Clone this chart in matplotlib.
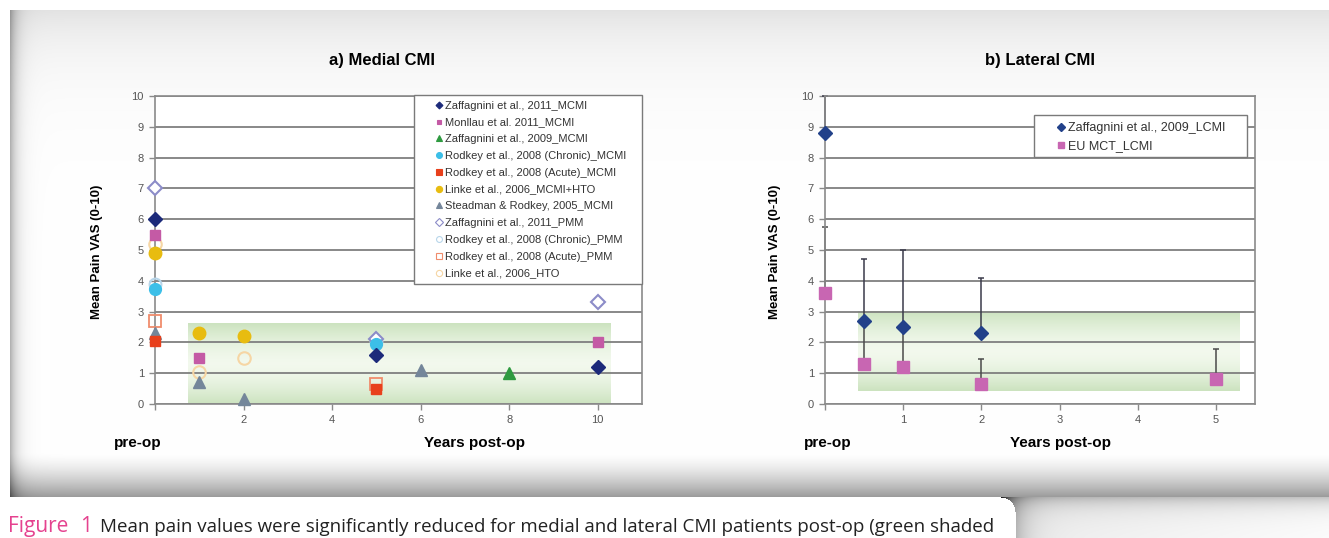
import numpy as np
import matplotlib.pyplot as plt
from matplotlib.lines import Line2D
from matplotlib.patches import Rectangle

plt.rcParams['font.family'] = ['Liberation Sans', 'DejaVu Sans']

W, H = 1329, 538

# ---- a) medial CMI  (x = years post-op, 0 = pre-op) ----
zaf11_x = [0, 5, 10]
zaf11_y = [6.0, 1.6, 1.2]
monllau_x = [0, 1, 10]
monllau_y = [5.5, 1.5, 2.0]
zaf09_x = [8]
zaf09_y = [1.0]
rod_chr_x = [0, 5]
rod_chr_y = [3.75, 1.95]
rod_acu_x = [0, 5]
rod_acu_y = [2.05, 0.5]
linke_x = [0, 1, 2]
linke_y = [4.9, 2.3, 2.2]
steadman_x = [0, 1, 2, 6]
steadman_y = [2.3, 0.7, 0.15, 1.1]
zaf11_pmm_x = [0, 5, 10]
zaf11_pmm_y = [7.0, 2.1, 3.3]
rod_chr_pmm_x = [0, 5]
rod_chr_pmm_y = [3.9, 2.05]
rod_acu_pmm_x = [0, 5]
rod_acu_pmm_y = [2.7, 0.65]
linke_hto_x = [0, 1, 2]
linke_hto_y = [5.2, 1.05, 1.5]

medial_labels = ["Zaffagnini et al., 2011_MCMI", "Monllau et al. 2011_MCMI",
                 "Zaffagnini et al., 2009_MCMI", "Rodkey et al., 2008 (Chronic)_MCMI",
                 "Rodkey et al., 2008 (Acute)_MCMI", "Linke et al., 2006_MCMI+HTO",
                 "Steadman & Rodkey, 2005_MCMI", "Zaffagnini et al., 2011_PMM",
                 "Rodkey et al., 2008 (Chronic)_PMM", "Rodkey et al., 2008 (Acute)_PMM",
                 "Linke et al., 2006_HTO"]
medial_ticks = [2, 4, 6, 8, 10]

# ---- b) lateral CMI ----
zaf_lat_x = [0, 0.5, 1, 2]
zaf_lat_y = [8.8, 2.7, 2.5, 2.3]
zaf_lat_err = [1.2, 2.0, 2.5, 1.8]
eu_x = [0, 0.5, 1, 2, 5]
eu_y = [3.6, 1.3, 1.2, 0.65, 0.8]
eu_err = [2.15, 1.4, 1.3, 0.8, 1.0]
lateral_labels = ["Zaffagnini et al., 2009_LCMI", "EU MCT_LCMI"]
lateral_ticks = [1, 2, 3, 4, 5]

caption = "Mean pain values were significantly reduced for medial and lateral CMI patients post-op (green shaded"

fig = plt.figure(figsize=(W / 100, H / 100), dpi=100)

# page background (card with shadow, caption card)
yy, xx = np.mgrid[0:H, 0:W].astype(float)
bg = np.ones((H, W))
card = (yy >= 10) & (yy < 497) & (xx >= 10)
v = 1.0 - 0.11 * np.exp(-(yy - 10) / 45)
v -= 0.40 * np.clip((yy - 452) / 45, 0, 1) ** 1.5
v -= 0.30 * np.exp(-(xx - 10) / 7)
bg[card] = v[card]
below = yy >= 497
right = below & (xx > 1015)
rv = 0.93 + 0.06 * (xx - 1015) / 314 - 0.22 * np.exp(-(xx - 1015) / 14)
rv -= 0.22 * np.exp(-(yy - 497) / 10)
bg[right] = rv[right]
corner = below & (xx > 1000) & (xx <= 1015) & (yy < 512) & ((xx - 1000) ** 2 + (yy - 512) ** 2 > 225)
bg[corner] = rv[corner]
bg[below & (xx < 15)] = 1.0
bg = np.clip(bg, 0, 1)

ax_bg = fig.add_axes([0, 0, 1, 1], zorder=-10)
ax_bg.imshow(np.dstack([bg] * 3), extent=(0, W, H, 0), aspect='auto', interpolation='bilinear')
ax_bg.set_xlim(0, W)
ax_bg.set_ylim(H, 0)
ax_bg.axis('off')


def px_axes(x0, x1, yt, yb):
    return fig.add_axes([x0 / W, (H - yb) / H, (x1 - x0) / W, (yb - yt) / H])


def green_band(ax, x0, x1, y0, y1):
    t = np.linspace(0, 1, 120)[:, None]
    k = (np.abs(t - 0.5) * 2) ** 1.6
    edge = np.array([0.80, 0.89, 0.75])
    mid = np.array([0.95, 0.975, 0.93])
    img = mid + (edge - mid) * k[..., None]
    ax.imshow(img, extent=(x0, x1, y0, y1), aspect='auto', zorder=0.2, interpolation='bilinear')


def style_axes(ax, xmax, xticks):
    ax.set_xlim(0, xmax)
    ax.set_ylim(0, 10)
    ax.set_yticks(range(0, 11))
    ax.set_xticks([0] + xticks)
    ax.set_xticklabels([''] + [str(t) for t in xticks])
    ax.set_axisbelow(True)
    ax.grid(axis='y', color='#7f7f7f', lw=1.3)
    for s in ax.spines.values():
        s.set_color('#8a8a8a')
        s.set_linewidth(1.2)
    ax.tick_params(direction='out', length=4, width=1, color='#8a8a8a',
                   labelcolor='#555555', labelsize=8, pad=4)


def legend_box(ax, x0, y0, x1, y1):
    ax.add_patch(Rectangle((x0, y0), x1 - x0, y1 - y0, transform=ax.transAxes, facecolor='white',
                           edgecolor='#7a7a7a', lw=1.0, zorder=4, clip_on=False))


# ---------- left chart ----------
axL = px_axes(155, 642, 96, 404)
green_band(axL, 0.75, 10.3, 0, 2.6)
style_axes(axL, 11, medial_ticks)

medial_series = [
    (zaf11_x, zaf11_y, dict(marker='D', ms=7, mfc='#1c2a7a', mec='#1c2a7a')),
    (monllau_x, monllau_y, dict(marker='s', ms=7, mfc='#c45aa5', mec='#c45aa5')),
    (zaf09_x, zaf09_y, dict(marker='^', ms=8, mfc='#2e9a40', mec='#2e9a40')),
    (rod_chr_x, rod_chr_y, dict(marker='o', ms=8.5, mfc='#3cbfe8', mec='#3cbfe8')),
    (rod_acu_x, rod_acu_y, dict(marker='s', ms=7.5, mfc='#e8401c', mec='#e8401c')),
    (linke_x, linke_y, dict(marker='o', ms=9, mfc='#e8bc10', mec='#e8bc10')),
    (steadman_x, steadman_y, dict(marker='^', ms=8.5, mfc='#74869a', mec='#74869a')),
    (zaf11_pmm_x, zaf11_pmm_y, dict(marker='D', ms=7.5, mfc='white', mec='#8c8cc8', mew=1.5)),
    (rod_chr_pmm_x, rod_chr_pmm_y, dict(marker='o', ms=8.5, mfc='none', mec='#b8d6ea', mew=1.5)),
    (rod_acu_pmm_x, rod_acu_pmm_y, dict(marker='s', ms=8, mfc='none', mec='#f08c6c', mew=1.3)),
    (linke_hto_x, linke_hto_y, dict(marker='o', ms=9, mfc='none', mec='#f6d6a4', mew=1.5)),
]
draw_order = [10, 9, 8, 7, 6, 3, 4, 1, 5, 0, 2]
for i in draw_order:
    xs, ys, st = medial_series[i]
    axL.plot(xs, ys, ls='none', zorder=3, clip_on=False, **st)

handles = []
for xs, ys, st in medial_series:
    st2 = dict(st)
    st2['ms'] = st['ms'] * 0.5
    st2['mew'] = 0.8
    handles.append(Line2D([], [], ls='none', **st2))
legend_box(axL, 0.532, 0.39, 1.0, 1.003)
leg = axL.legend(handles, medial_labels, loc='upper left', bbox_to_anchor=(0.577, 0.985),
                 fontsize=8, frameon=False, borderpad=0, labelspacing=0.61, handlelength=0.5,
                 handletextpad=0.3, borderaxespad=0, labelcolor='#333333')
leg.set_zorder(5)

# ---------- right chart ----------
axR = px_axes(825, 1255, 96, 404)
green_band(axR, 0.42, 5.3, 0.43, 3.0)
style_axes(axR, 5.5, lateral_ticks)

for xs, ys, err, col in [(eu_x, eu_y, eu_err, '#4a4a4a'), (zaf_lat_x, zaf_lat_y, zaf_lat_err, '#3a3a4a')]:
    eb = axR.errorbar(xs, ys, yerr=[np.zeros(len(err)), err], fmt='none', ecolor=col,
                      elinewidth=1.1, capsize=2.5, capthick=1.1, zorder=2.5)
    for art in list(eb.lines[1]) + list(eb.lines[2]):
        art.set_clip_on(False)
axR.plot(eu_x, eu_y, ls='none', marker='s', ms=9, mfc='#c866b2', mec='#c866b2', zorder=3, clip_on=False)
axR.plot(zaf_lat_x, zaf_lat_y, ls='none', marker='D', ms=7.5, mfc='#22418a', mec='#22418a', zorder=3, clip_on=False)

h_lat = [Line2D([], [], ls='none', marker='D', ms=3.8, mfc='#22418a', mec='#22418a'),
         Line2D([], [], ls='none', marker='s', ms=4.2, mfc='#c866b2', mec='#c866b2')]
legend_box(axR, 0.486, 0.802, 0.981, 0.938)
legR = axR.legend(h_lat, lateral_labels, loc='upper left', bbox_to_anchor=(0.542, 0.915),
                  fontsize=9, frameon=False, borderpad=0, labelspacing=0.5, handlelength=0.5,
                  handletextpad=0.3, borderaxespad=0, labelcolor='#333333')
legR.set_zorder(5)

# ---------- outer texts (pixel coords) ----------
bold = dict(fontweight='bold', color='black')
ax_bg.text(382, 60, "a) Medial CMI", ha='center', va='center', fontsize=12, **bold)
ax_bg.text(1040, 60, "b) Lateral CMI", ha='center', va='center', fontsize=12, **bold)
ax_bg.text(97, 252, "Mean Pain VAS (0-10)", rotation=90, ha='center', va='center', fontsize=9.5, **bold)
ax_bg.text(775, 252, "Mean Pain VAS (0-10)", rotation=90, ha='center', va='center', fontsize=9.5, **bold)
ax_bg.text(138, 443, "pre-op", ha='center', va='center', fontsize=11, **bold)
ax_bg.text(474, 443, "Years post-op", ha='center', va='center', fontsize=11, **bold)
ax_bg.text(828, 443, "pre-op", ha='center', va='center', fontsize=11, **bold)
ax_bg.text(1060, 443, "Years post-op", ha='center', va='center', fontsize=11, **bold)

ax_bg.text(8, 537, "Figure", ha='left', va='bottom', fontsize=15, color='#e5428f', family='Open Sans')
ax_bg.text(80, 537, "1", ha='left', va='bottom', fontsize=15, color='#e5428f', family='Open Sans')
ax_bg.text(100, 536, caption, ha='left', va='bottom', fontsize=13.5, color='#222222', family='Open Sans')

fig.savefig("out.png", dpi=100)
